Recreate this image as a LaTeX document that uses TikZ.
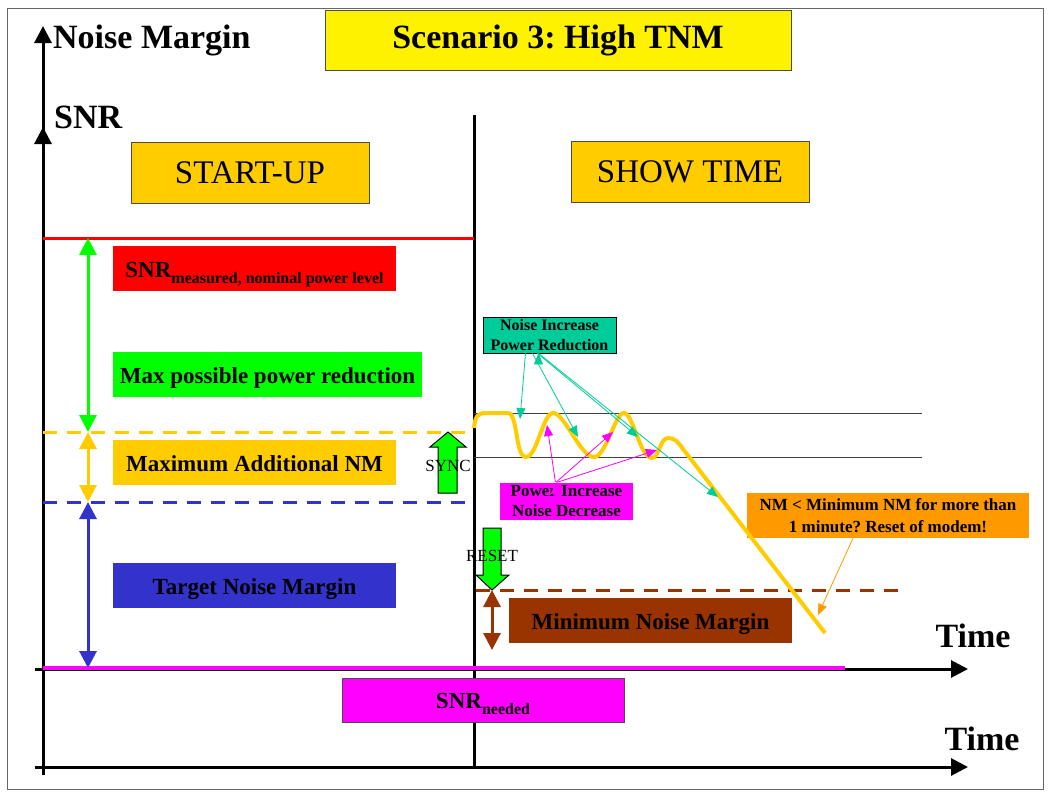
\documentclass[tikz,border=0pt]{standalone}
\usepackage{fontspec}
\setmainfont{Liberation Serif}
\usetikzlibrary{arrows.meta, positioning}
\definecolor{gold}{HTML}{FFCC00}
\definecolor{tblue}{HTML}{3333CC}
\definecolor{tbrown}{HTML}{993300}
\definecolor{tteal}{HTML}{00CC99}
\definecolor{torange}{HTML}{FF9900}
\definecolor{tmagenta}{HTML}{FF00FF}
\definecolor{tgreen}{HTML}{00FF00}
\frenchspacing
\newcommand{\axisfont}{\fontsize{34}{40}\selectfont\bfseries}
\newcommand{\phasefont}{\fontsize{33}{38}\selectfont}
\newcommand{\boxfont}{\fontsize{23}{27}\selectfont\bfseries}
\newcommand{\subtext}[1]{{\fontsize{16}{18}\selectfont\raisebox{-6pt}[0pt][0pt]{#1}}}
\tikzset{
    every node/.style={inner sep=0pt}, % boxes get their size from minimum width/height
    frame/.style={draw=black!60, line width=0.6pt}, % thin border round the slide
    axis/.style={line width=3pt, -{Triangle[length=17pt,width=17pt]}}, % black axes
    level/.style={line width=3pt}, % solid level lines
    dashlevel/.style={line width=3pt, dash pattern=on 14pt off 10pt}, % dashed level lines
    span/.style={line width=3pt, {Triangle[length=17pt,width=17pt]}-{Triangle[length=17pt,width=17pt]}}, % double arrows between levels
    pointer/.style={line width=0.8pt, -{Triangle[length=11pt,width=9pt]}}, % thin call-out arrows
    axislabel/.style={font=\axisfont},
    phasebox/.style={draw=black!70, line width=0.8pt, fill=gold, minimum width=238pt, minimum height=61pt, font=\phasefont},
    infobox/.style={minimum height=45pt, text height=17pt, text depth=0pt, font=\boxfont},
    notebox/.style={align=center, minimum width=133pt, minimum height=36pt},
    blockarrow/.style={draw=black, fill=tgreen, line width=1pt, line join=miter},
    steplabel/.style={font=\fontsize{17}{20}\selectfont},
}

\begin{document}
\begin{tikzpicture}[x=1pt, y=-1pt]
\useasboundingbox (0,0) rectangle (1050,795);
\draw[frame] (7,8) rectangle (1043,789);

% axes
\coordinate (origin) at (43,775);
\coordinate (nmtop) at (43,26);
\coordinate (snrtop) at (43,127);
\coordinate (upstart) at (35,669);
\coordinate (upend) at (968,669);
\coordinate (lowstart) at (35,767);
\coordinate (lowend) at (968,767);
\coordinate (divtop) at (474,115);
\coordinate (divbot) at (474,767);
\draw[axis] (origin) -- (nmtop);
\draw[axis] (origin) -- (snrtop);
\draw[axis] (lowstart) -- (lowend);
\draw[axis] (upstart) -- (upend);
\draw[line width=3pt] (divtop) -- (divbot);

% levels
\coordinate (redl) at (43,238);   \coordinate (redr) at (474,238);
\coordinate (goldl) at (43,432);  \coordinate (goldr) at (470,432);
\coordinate (bluel) at (43,502);  \coordinate (bluer) at (470,502);
\coordinate (magl) at (43,668);   \coordinate (magr) at (845,668);
\coordinate (brownl) at (476,590); \coordinate (brownr) at (905,590);
\draw[level, red] (redl) -- (redr);
\draw[dashlevel, gold] (goldl) -- (goldr);
\draw[dashlevel, tblue] (bluel) -- (bluer);
\draw[line width=4pt, tmagenta] (magl) -- (magr);
\draw[dashlevel, tbrown] (brownl) -- (brownr);
\draw[black!75, line width=1pt] (474,413) -- (922,413);
\draw[black!75, line width=1pt] (474,457) -- (922,457);

% spans
\coordinate (a1) at (88,238);
\coordinate (a2) at (88,432);
\coordinate (a3) at (88,502);
\coordinate (a4) at (88,668);
\coordinate (b1) at (492,590);
\coordinate (b2) at (492,650);
\draw[span, tgreen] (a1) -- (a2);
\draw[span, gold] (a2) -- (a3);
\draw[span, tblue] (a3) -- (a4);
\draw[span, tbrown] (b1) -- (b2);

% title and phase boxes
\node[draw=black!70, line width=0.8pt, fill=yellow, minimum width=466pt, minimum height=60pt,
      font=\axisfont] (title) at (558,40) {Scenario 3: High TNM};
\node[phasebox] (startup) at (250,172.5) {START-UP};
\node[phasebox] (showtime) at (690,172) {SHOW TIME};

% axis labels
\node[axislabel, anchor=base west] (nmlabel) at (53,48) {Noise Margin};
\node[axislabel, anchor=base west] (snrlabel) at (54,128) {SNR};
\node[axislabel, anchor=base] (timeup) at (973,647) {Time};
\node[axislabel, anchor=base] (timelow) at (982,750) {Time};

% level boxes
\node[infobox, fill=red, minimum width=283pt] (snrmeas) at (254.5,268.5) {SNR\subtext{measured, nominal power level}};
\node[infobox, fill=tgreen, minimum width=309pt] (maxred) at (267.5,374.5) {Max possible power reduction};
\node[infobox, fill=gold, minimum width=283pt] (maxadd) at (254.5,462.5) {Maximum Additional NM};
\node[infobox, fill=tblue, minimum width=283pt] (target) at (254.5,585.5) {Target Noise Margin};
\node[infobox, fill=tbrown, minimum width=283pt] (minnm) at (650.5,620.5) {Minimum Noise Margin};
\node[infobox, draw=black!70, line width=0.8pt, fill=tmagenta, minimum width=282pt, minimum height=44pt] (snrneed) at (483,700) {SNR\subtext{needed}};

% call-out boxes
\node[notebox, draw=black, line width=0.8pt, fill=tteal, font=\fontsize{16}{20}\selectfont\bfseries] (noiseinc) at (549.5,335) {Noise Increase\\Power Reduction};
\node[notebox, fill=tmagenta, minimum height=37pt, font=\fontsize{17}{20}\selectfont\bfseries] (powinc) at (566.5,501.5) {Power Increase\\Noise Decrease};
\node[notebox, fill=torange, minimum width=282pt, minimum height=45pt, font=\fontsize{17}{21.5}\selectfont\bfseries] (nmreset) at (888,515.5) {NM < Minimum NM for more than\\1 minute? Reset of modem!};

% noise margin during show time
\draw[gold, line width=4pt, line join=round]
  (474,428) .. controls (475,416) and (478,413) .. (486,413) -- (508,413)
  .. controls (518,413) and (515,457) .. (526,457)
  .. controls (537,457) and (543,413) .. (553,413)
  .. controls (565,413) and (580,457) .. (594,457)
  .. controls (606,457) and (615,413) .. (624,413)
  .. controls (633,413) and (640,458) .. (652,458)
  .. controls (659,458) and (660,438) .. (668,438)
  .. controls (675,438) and (678,442) .. (683,449) -- (825,633);

% pointer targets on the curve
\coordinate (t1) at (520,419);
\coordinate (t2) at (578,437);
\coordinate (t3) at (638,437);
\coordinate (t4) at (718,497);
\coordinate (p1) at (547,425);
\coordinate (p2) at (613,432);
\coordinate (p3) at (657,450);
\coordinate (r1) at (818,615);
\draw[pointer, tteal]
([xshift=-24pt]noiseinc.south) edge (t1)
([xshift=-17pt]noiseinc.south) edge (t2)
([xshift=-12pt]noiseinc.south) edge (t3)
([xshift=-11pt]noiseinc.south) edge (t4);
\draw[pointer, tmagenta, shorten <=1pt]
([xshift=-11pt]powinc.north) edge (p1)
([xshift=-11pt]powinc.north) edge (p2)
([xshift=-11pt]powinc.north) edge (p3);
\draw[pointer, torange] ([xshift=-35pt]nmreset.south) -- (r1);

% sync and reset
\draw[blockarrow] (438,493) -- (438,447) -- (430,447) -- (448,432) -- (466,447) -- (457,447) -- (457,493) -- cycle;
\draw[blockarrow] (483,528) -- (483,575) -- (476,575) -- (492,590) -- (509,575) -- (501,575) -- (501,528) -- cycle;
\node[steplabel] (sync) at (448,466) {SYNC};
\node[steplabel] (reset) at (492,556) {RESET};
\end{tikzpicture}
\end{document}
